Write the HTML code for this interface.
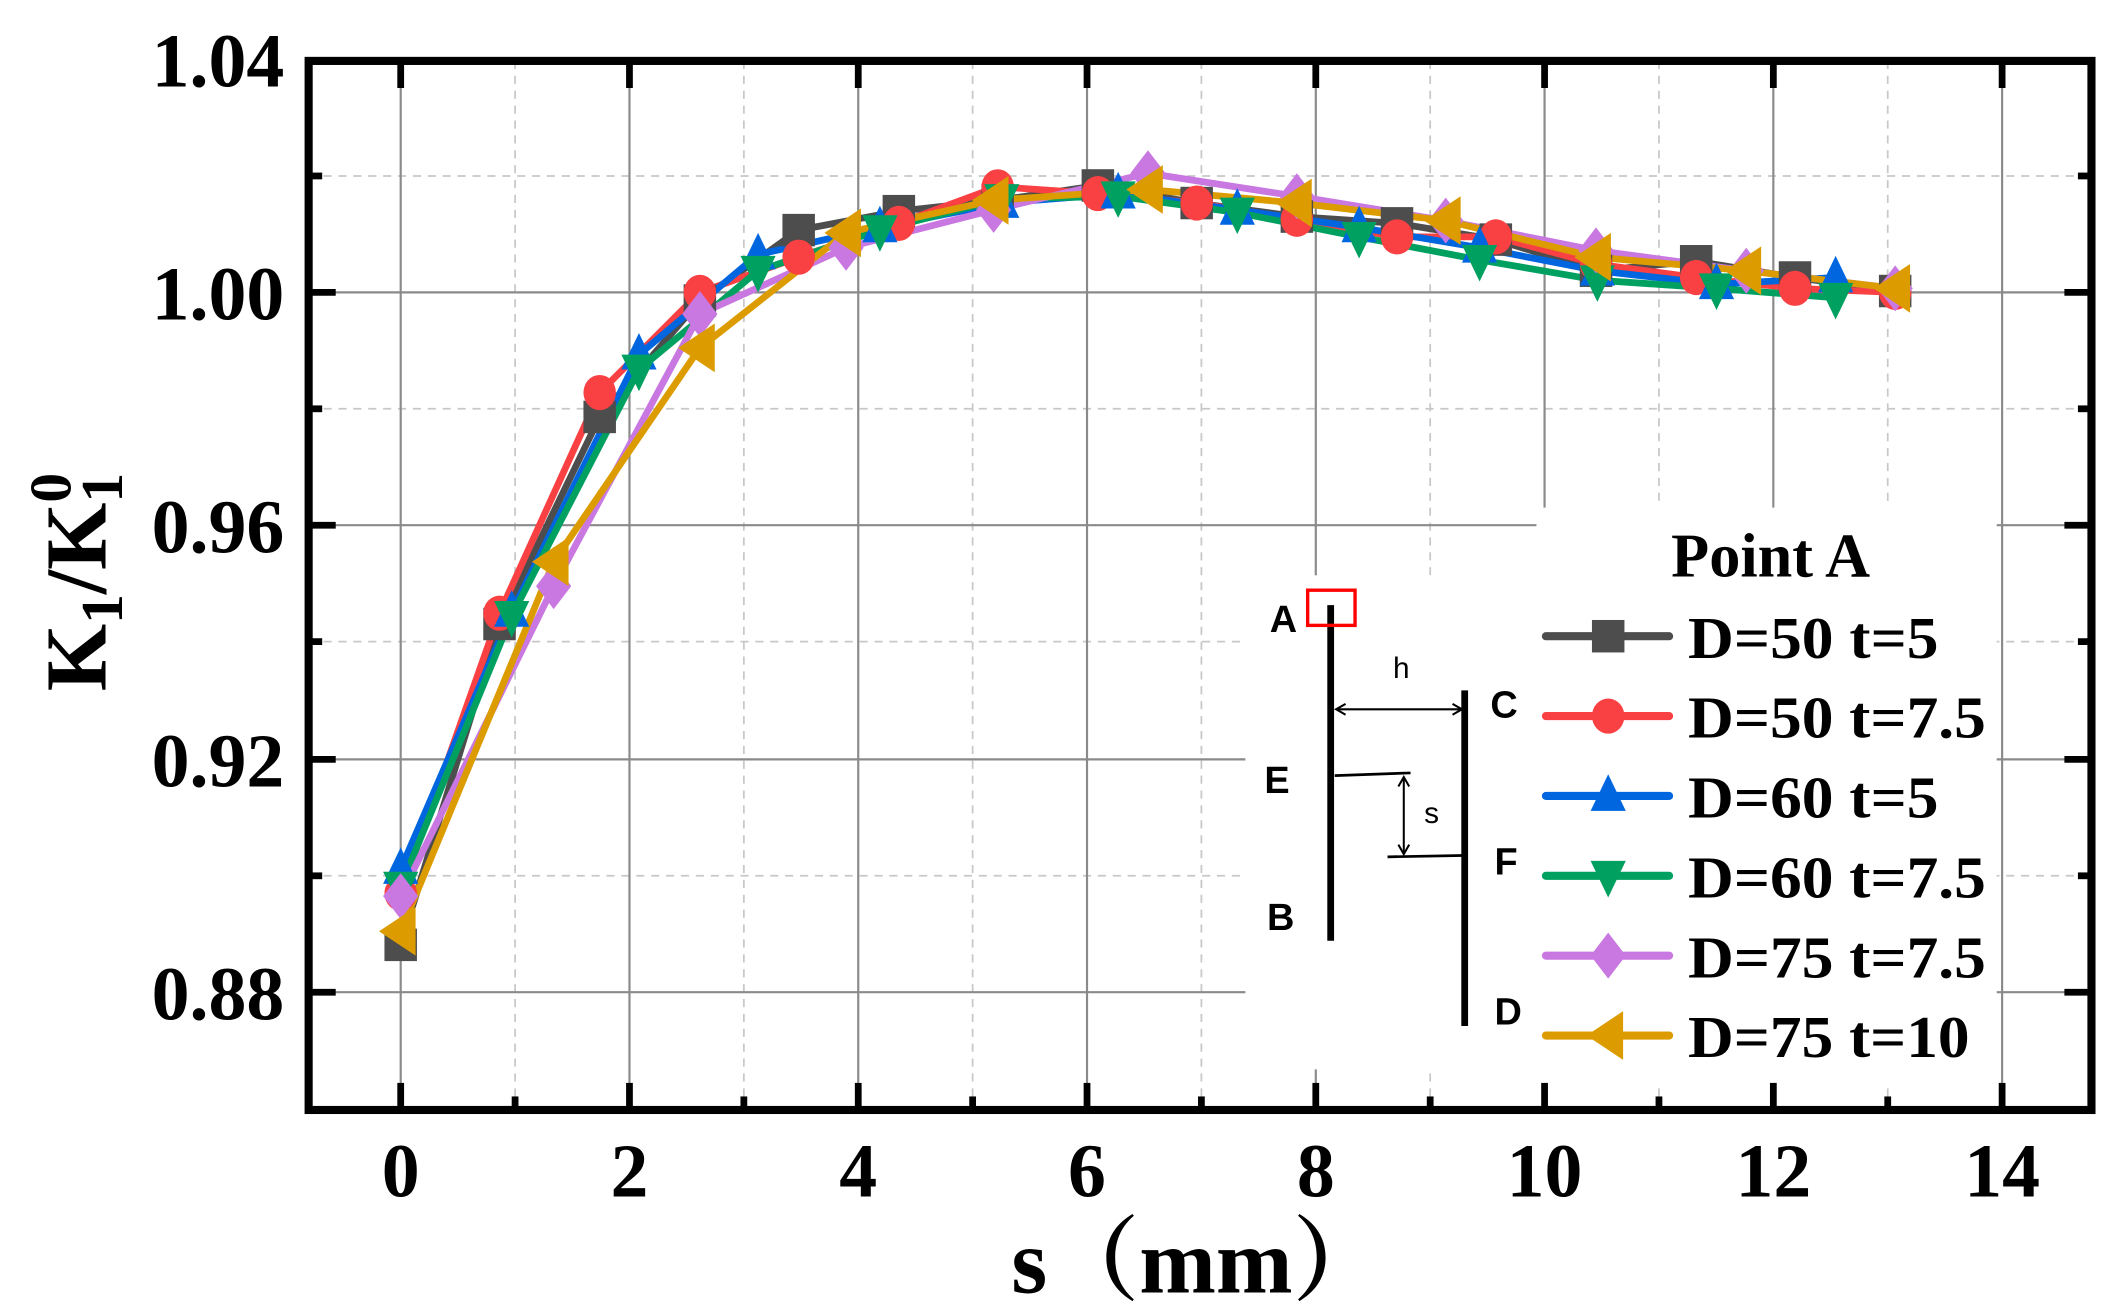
<!DOCTYPE html>
<html><head><meta charset="utf-8"><style>html,body{margin:0;padding:0;background:#fff}svg{display:block}</style></head>
<body>
<svg width="2105" height="1311" viewBox="0 0 1555 968.5" preserveAspectRatio="none" xmlns="http://www.w3.org/2000/svg">
<defs>
<rect id="mk-sq" x="-12" y="-12" width="24" height="24"/>
<ellipse id="mk-ci" cx="0" cy="0" rx="12" ry="13"/>
<polygon id="mk-up" points="0,-16 13,11 -13,11"/>
<polygon id="mk-dn" points="0,16 13,-11 -13,-11"/>
<polygon id="mk-di" points="0,-17 13,0 0,17 -13,0"/>
<polygon id="mk-lt" points="-16,0 11,-18 11,18"/>
</defs>
<!-- grid -->
<g stroke="#c8c8c8" stroke-width="1.3" stroke-dasharray="6,5">
<line x1="380.5" y1="45" x2="380.5" y2="820"/><line x1="549.5" y1="45" x2="549.5" y2="820"/><line x1="718.5" y1="45" x2="718.5" y2="820"/><line x1="887.5" y1="45" x2="887.5" y2="820"/><line x1="1056.5" y1="45" x2="1056.5" y2="820"/><line x1="1225.5" y1="45" x2="1225.5" y2="820"/><line x1="1394.5" y1="45" x2="1394.5" y2="820"/>
<line x1="228" y1="130" x2="1545" y2="130"/><line x1="228" y1="302" x2="1545" y2="302"/><line x1="228" y1="474" x2="1545" y2="474"/><line x1="228" y1="647" x2="1545" y2="647"/>
</g>
<g stroke="#8a8a8a" stroke-width="1.6">
<line x1="296" y1="45" x2="296" y2="820"/><line x1="465" y1="45" x2="465" y2="820"/><line x1="634" y1="45" x2="634" y2="820"/><line x1="803" y1="45" x2="803" y2="820"/><line x1="972" y1="45" x2="972" y2="820"/><line x1="1141" y1="45" x2="1141" y2="820"/><line x1="1310" y1="45" x2="1310" y2="820"/><line x1="1479" y1="45" x2="1479" y2="820"/>
<line x1="228" y1="216" x2="1545" y2="216"/><line x1="228" y1="388" x2="1545" y2="388"/><line x1="228" y1="561" x2="1545" y2="561"/><line x1="228" y1="733" x2="1545" y2="733"/>
</g>
<!-- series -->
<g fill="none" stroke-width="5" stroke-linejoin="round">
<polyline stroke="#4d4d4d" points="296,698 369,461 443,308 517,222 590,170 664,156 737,148 811,137 884,150 958,160 1032,165 1105,177 1179,200 1253,193 1326,205 1400,215"/>
<polyline stroke="#f94144" points="296,660 369,453 443,290 517,216 590,190 664,165 737,138 811,143 884,150 958,162 1032,175 1105,175 1179,195 1253,205 1326,213 1400,216"/>
<polyline stroke="#0066e0" points="296,642 378,452 472,262 560,188 650,168 740,150 826,143 914,155 1004,168 1093,183 1180,200 1268,210 1356,205"/>
<polyline stroke="#00a060" points="296,655 378,455 472,273 560,200 650,170 740,147 826,145 914,157 1004,175 1093,192 1180,207 1268,213 1356,220"/>
<polyline stroke="#c878e0" points="296,662 409,433 517,232 625,183 734,155 848,128 958,145 1068,163 1179,185 1290,200 1400,213"/>
<polyline stroke="#dc9c00" points="296,688 409,415 517,257 625,172 734,148 848,140 958,150 1068,163 1179,190 1290,200 1400,213"/>
</g>
<g fill="#4d4d4d">
<use href="#mk-sq" x="296" y="698"/><use href="#mk-sq" x="369" y="461"/><use href="#mk-sq" x="443" y="308"/><use href="#mk-sq" x="517" y="222"/><use href="#mk-sq" x="590" y="170"/><use href="#mk-sq" x="664" y="156"/><use href="#mk-sq" x="737" y="148"/><use href="#mk-sq" x="811" y="137"/><use href="#mk-sq" x="884" y="150"/><use href="#mk-sq" x="958" y="160"/><use href="#mk-sq" x="1032" y="165"/><use href="#mk-sq" x="1105" y="177"/><use href="#mk-sq" x="1179" y="200"/><use href="#mk-sq" x="1253" y="193"/><use href="#mk-sq" x="1326" y="205"/><use href="#mk-sq" x="1400" y="215"/>
</g>
<g fill="#f94144">
<use href="#mk-ci" x="296" y="660"/><use href="#mk-ci" x="369" y="453"/><use href="#mk-ci" x="443" y="290"/><use href="#mk-ci" x="517" y="216"/><use href="#mk-ci" x="590" y="190"/><use href="#mk-ci" x="664" y="165"/><use href="#mk-ci" x="737" y="138"/><use href="#mk-ci" x="811" y="143"/><use href="#mk-ci" x="884" y="150"/><use href="#mk-ci" x="958" y="162"/><use href="#mk-ci" x="1032" y="175"/><use href="#mk-ci" x="1105" y="175"/><use href="#mk-ci" x="1179" y="195"/><use href="#mk-ci" x="1253" y="205"/><use href="#mk-ci" x="1326" y="213"/><use href="#mk-ci" x="1400" y="216"/>
</g>
<g fill="#0066e0">
<use href="#mk-up" x="296" y="642"/><use href="#mk-up" x="378" y="452"/><use href="#mk-up" x="472" y="262"/><use href="#mk-up" x="560" y="188"/><use href="#mk-up" x="650" y="168"/><use href="#mk-up" x="740" y="150"/><use href="#mk-up" x="826" y="143"/><use href="#mk-up" x="914" y="155"/><use href="#mk-up" x="1004" y="168"/><use href="#mk-up" x="1093" y="183"/><use href="#mk-up" x="1180" y="200"/><use href="#mk-up" x="1268" y="210"/><use href="#mk-up" x="1356" y="205"/>
</g>
<g fill="#00a060">
<use href="#mk-dn" x="296" y="655"/><use href="#mk-dn" x="378" y="455"/><use href="#mk-dn" x="472" y="273"/><use href="#mk-dn" x="560" y="200"/><use href="#mk-dn" x="650" y="170"/><use href="#mk-dn" x="740" y="147"/><use href="#mk-dn" x="826" y="145"/><use href="#mk-dn" x="914" y="157"/><use href="#mk-dn" x="1004" y="175"/><use href="#mk-dn" x="1093" y="192"/><use href="#mk-dn" x="1180" y="207"/><use href="#mk-dn" x="1268" y="213"/><use href="#mk-dn" x="1356" y="220"/>
</g>
<g fill="#c878e0">
<use href="#mk-di" x="296" y="662"/><use href="#mk-di" x="409" y="433"/><use href="#mk-di" x="517" y="232"/><use href="#mk-di" x="625" y="183"/><use href="#mk-di" x="734" y="155"/><use href="#mk-di" x="848" y="128"/><use href="#mk-di" x="958" y="145"/><use href="#mk-di" x="1068" y="163"/><use href="#mk-di" x="1179" y="185"/><use href="#mk-di" x="1290" y="200"/><use href="#mk-di" x="1400" y="213"/>
</g>
<g fill="#dc9c00">
<use href="#mk-lt" x="296" y="688"/><use href="#mk-lt" x="409" y="415"/><use href="#mk-lt" x="517" y="257"/><use href="#mk-lt" x="625" y="172"/><use href="#mk-lt" x="734" y="148"/><use href="#mk-lt" x="848" y="140"/><use href="#mk-lt" x="958" y="150"/><use href="#mk-lt" x="1068" y="163"/><use href="#mk-lt" x="1179" y="190"/><use href="#mk-lt" x="1290" y="200"/><use href="#mk-lt" x="1400" y="213"/>
</g>
<!-- diagram / legend background -->
<rect x="920" y="425" width="216" height="365" fill="#fff"/>
<rect x="1135" y="375" width="340" height="425" fill="#fff"/>
<!-- diagram -->
<g stroke="#000">
<line x1="983" y1="447" x2="983" y2="695" stroke-width="5"/>
<line x1="1082" y1="510" x2="1082" y2="758" stroke-width="5"/>
<line x1="987" y1="524" x2="1080" y2="524" stroke-width="1.5"/>
<polyline points="994,520 987,524 994,528" fill="none" stroke-width="1.5"/>
<polyline points="1073,520 1080,524 1073,528" fill="none" stroke-width="1.5"/>
<line x1="986" y1="573" x2="1042" y2="571" stroke-width="2"/>
<line x1="1025" y1="633" x2="1080" y2="632" stroke-width="2"/>
<line x1="1037" y1="574" x2="1037" y2="631" stroke-width="1.5"/>
<polyline points="1033,581 1037,574 1041,581" fill="none" stroke-width="1.5"/>
<polyline points="1033,624 1037,631 1041,624" fill="none" stroke-width="1.5"/>
</g>
<rect x="966" y="436" width="35" height="26" fill="none" stroke="#f00" stroke-width="2.5"/>
<g font-family="Liberation Sans, DejaVu Sans, sans-serif" font-weight="bold" font-size="28" fill="#000">
<text x="938" y="467">A</text><text x="934" y="586">E</text><text x="936" y="687">B</text>
<text x="1101" y="530">C</text><text x="1104" y="646">F</text><text x="1104" y="757">D</text>
</g>
<g font-family="Liberation Sans, DejaVu Sans, sans-serif" font-size="22" fill="#000">
<text x="1029" y="501">h</text><text x="1052" y="608">s</text>
</g>
<!-- legend -->
<g font-family="Liberation Serif, serif" font-weight="bold" fill="#000">
<text x="1308" y="426" font-size="46" text-anchor="middle">Point A</text>
<g font-size="44">
<text x="1247" y="486" textLength="185" lengthAdjust="spacingAndGlyphs">D=50 t=5</text>
<text x="1247" y="545" textLength="220" lengthAdjust="spacingAndGlyphs">D=50 t=7.5</text>
<text x="1247" y="604" textLength="185" lengthAdjust="spacingAndGlyphs">D=60 t=5</text>
<text x="1247" y="663" textLength="220" lengthAdjust="spacingAndGlyphs">D=60 t=7.5</text>
<text x="1247" y="722" textLength="220" lengthAdjust="spacingAndGlyphs">D=75 t=7.5</text>
<text x="1247" y="781" textLength="208" lengthAdjust="spacingAndGlyphs">D=75 t=10</text>
</g>
</g>
<g stroke-width="6" stroke-linecap="round">
<line x1="1142" y1="470" x2="1233" y2="470" stroke="#4d4d4d"/>
<line x1="1142" y1="529" x2="1233" y2="529" stroke="#f94144"/>
<line x1="1142" y1="588" x2="1233" y2="588" stroke="#0066e0"/>
<line x1="1142" y1="647" x2="1233" y2="647" stroke="#00a060"/>
<line x1="1142" y1="706" x2="1233" y2="706" stroke="#c878e0"/>
<line x1="1142" y1="765" x2="1233" y2="765" stroke="#dc9c00"/>
</g>
<use href="#mk-sq" x="1188" y="470" fill="#4d4d4d"/>
<use href="#mk-ci" x="1188" y="529" fill="#f94144"/>
<use href="#mk-up" x="1188" y="588" fill="#0066e0"/>
<use href="#mk-dn" x="1188" y="647" fill="#00a060"/>
<use href="#mk-di" x="1188" y="706" fill="#c878e0"/>
<use href="#mk-lt" x="1188" y="765" fill="#dc9c00"/>
<!-- ticks -->
<g stroke="#000" stroke-width="5">
<line x1="296" y1="820" x2="296" y2="800"/><line x1="465" y1="820" x2="465" y2="800"/><line x1="634" y1="820" x2="634" y2="800"/><line x1="803" y1="820" x2="803" y2="800"/><line x1="972" y1="820" x2="972" y2="800"/><line x1="1141" y1="820" x2="1141" y2="800"/><line x1="1310" y1="820" x2="1310" y2="800"/><line x1="1479" y1="820" x2="1479" y2="800"/>
<line x1="380.5" y1="820" x2="380.5" y2="810"/><line x1="549.5" y1="820" x2="549.5" y2="810"/><line x1="718.5" y1="820" x2="718.5" y2="810"/><line x1="887.5" y1="820" x2="887.5" y2="810"/><line x1="1056.5" y1="820" x2="1056.5" y2="810"/><line x1="1225.5" y1="820" x2="1225.5" y2="810"/><line x1="1394.5" y1="820" x2="1394.5" y2="810"/>
<line x1="296" y1="45" x2="296" y2="65"/><line x1="465" y1="45" x2="465" y2="65"/><line x1="634" y1="45" x2="634" y2="65"/><line x1="803" y1="45" x2="803" y2="65"/><line x1="972" y1="45" x2="972" y2="65"/><line x1="1141" y1="45" x2="1141" y2="65"/><line x1="1310" y1="45" x2="1310" y2="65"/><line x1="1479" y1="45" x2="1479" y2="65"/>
<line x1="228" y1="216" x2="248" y2="216"/><line x1="228" y1="388" x2="248" y2="388"/><line x1="228" y1="561" x2="248" y2="561"/><line x1="228" y1="733" x2="248" y2="733"/>
<line x1="228" y1="130" x2="238" y2="130"/><line x1="228" y1="302" x2="238" y2="302"/><line x1="228" y1="474" x2="238" y2="474"/><line x1="228" y1="647" x2="238" y2="647"/>
<line x1="1545" y1="216" x2="1525" y2="216"/><line x1="1545" y1="388" x2="1525" y2="388"/><line x1="1545" y1="561" x2="1525" y2="561"/><line x1="1545" y1="733" x2="1525" y2="733"/>
<line x1="1545" y1="130" x2="1535" y2="130"/><line x1="1545" y1="302" x2="1535" y2="302"/><line x1="1545" y1="474" x2="1535" y2="474"/><line x1="1545" y1="647" x2="1535" y2="647"/>
</g>
<rect x="228" y="45" width="1317" height="775" fill="none" stroke="#000" stroke-width="6"/>
<!-- tick labels -->
<g font-family="Liberation Serif, serif" font-weight="bold" font-size="56" fill="#000">
<g text-anchor="end">
<text x="210" y="64">1.04</text><text x="210" y="236">1.00</text><text x="210" y="408">0.96</text><text x="210" y="581">0.92</text><text x="210" y="753">0.88</text>
</g>
<g text-anchor="middle">
<text x="296" y="884">0</text><text x="465" y="884">2</text><text x="634" y="884">4</text><text x="803" y="884">6</text><text x="972" y="884">8</text><text x="1141" y="884">10</text><text x="1310" y="884">12</text><text x="1479" y="884">14</text>
</g>
</g>
<text x="885" y="955" text-anchor="middle" font-family="Liberation Serif, 'Noto Serif CJK SC', serif" font-weight="bold" font-size="68" fill="#000">s（mm）</text>
<text transform="translate(78,430) rotate(-90)" text-anchor="middle" font-family="Liberation Serif, serif" font-weight="bold" font-size="64" fill="#000">K<tspan font-size="44" dy="12">1</tspan><tspan dy="-12">/K</tspan><tspan font-size="44" dy="-26">0</tspan><tspan font-size="44" dx="-22" dy="38">1</tspan></text>
</svg>
</body></html>
